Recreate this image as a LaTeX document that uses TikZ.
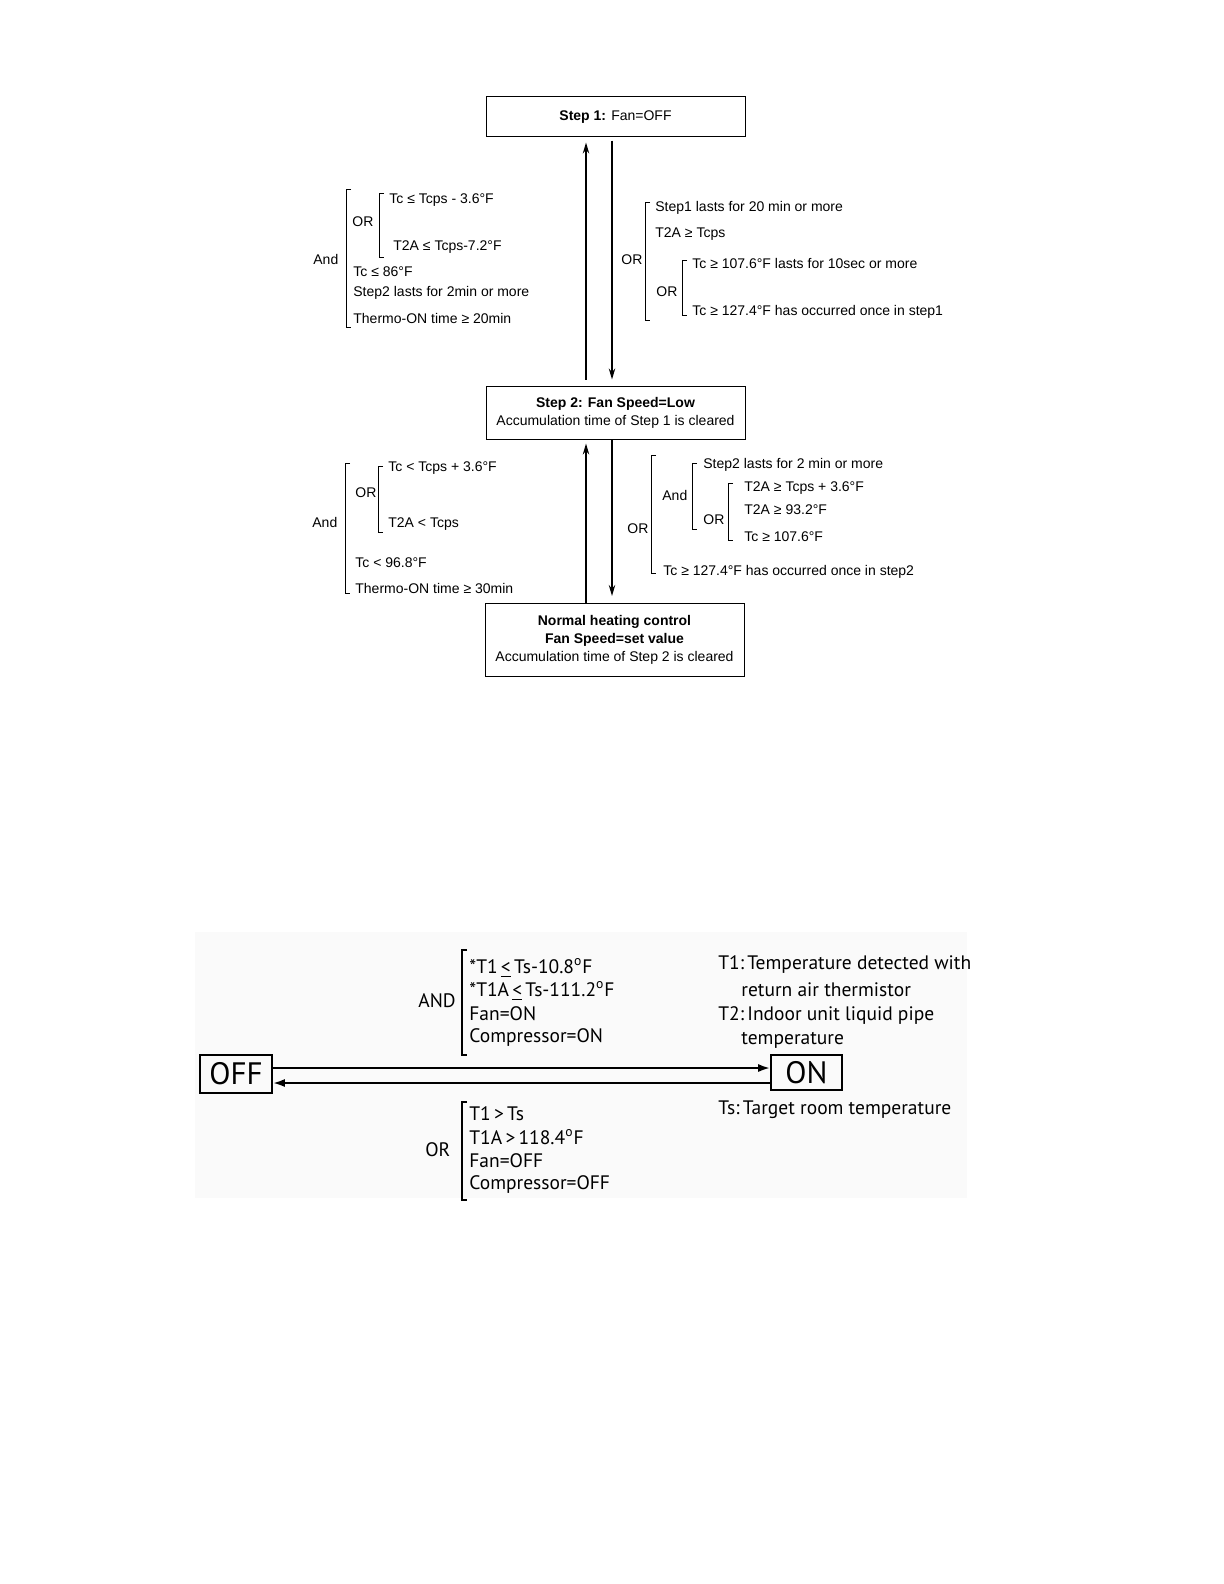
\documentclass[tikz,border=0pt]{standalone}
\usepackage{fontspec}
\setmainfont{Liberation Sans}
\newfontfamily\legendfont{PT Sans}
\usetikzlibrary{calc, positioning, arrows.meta}

\tikzset{
  stepbox/.style={draw, line width=0.5pt, align=center, inner sep=0pt,
    minimum width=129.5pt, font=\fontsize{7}{9}\selectfont},
  cond/.style={anchor=west, inner sep=0pt, font=\fontsize{7}{8.4}\selectfont},
  brak/.style={line width=0.4pt},
  flow/.style={line width=0.75pt, -{Stealth[length=5.5pt, width=3.2pt]}},
  swbox/.style={draw, line width=0.8pt, inner sep=0pt,
    font=\legendfont\fontsize{15.5}{18}\selectfont},
  swtext/.style={anchor=west, inner sep=0pt, font=\legendfont\fontsize{9.75}{11}\selectfont},
  swbrak/.style={line width=0.8pt},
  swflow/.style={line width=1.1pt, -{Latex[length=6pt, width=4pt]}},
}
% bracket: [style]{x}{top}{bottom}
\newcommand{\condbrk}[4][brak]{\draw[#1] (#2+5,#3) -- (#2,#3) -- (#2,#4) -- (#2+5,#4);}
\newcommand{\ule}{\underline{<}}

\begin{document}
\begin{tikzpicture}[x=0.5pt, y=-0.5pt]
  \useasboundingbox (0,0) rectangle (1224,1584);

  % heating steps
  \node[stepbox, minimum height=20pt] (step1) at (615.5,117) {\textbf{Step 1:} Fan=OFF};
  \node[stepbox, minimum height=26.5pt] (step2) at (615.5,412.5)
    {\textbf{Step 2: Fan Speed=Low}\\Accumulation time of Step 1 is cleared};
  \node[stepbox, minimum height=36.5pt] (normal) at (614.5,640)
    {\textbf{Normal heating control}\\\textbf{Fan Speed=set value}\\Accumulation time of Step 2 is cleared};

  \coordinate (upL) at (586,0);
  \coordinate (dnR) at (612,0);
  \draw[flow, shorten >=2.5pt, shorten <=3pt] (step2.north -| upL) -- (step1.south -| upL);
  \draw[flow, shorten >=3pt, shorten <=1.5pt] (step1.south -| dnR) -- (step2.north -| dnR);
  \draw[flow, shorten >=2pt] (normal.north -| upL) -- (step2.south -| upL);
  \draw[flow, shorten >=3.5pt] (step2.south -| dnR) -- (normal.north -| dnR);

  % step2 -> step1
  \condbrk{346}{189}{327}
  \node[cond] (andA) at (313,259) {And};
  \condbrk{379}{193}{257}
  \node[cond] (orA) at (352,222) {OR};
  \node[cond] (a1) at (389,200) {Tc ≤ Tcps - 3.6°F};
  \node[cond] (a2) at (393,247) {T2A ≤ Tcps-7.2°F};
  \node[cond] (a3) at (353,272) {Tc ≤ 86°F};
  \node[cond] (a4) at (353,293) {Step2 lasts for 2min or more};
  \node[cond] (a5) at (353,318) {Thermo-ON time ≥ 20min};

  % step1 -> step2
  \condbrk{645}{202}{320}
  \node[cond] (orB) at (621,260) {OR};
  \node[cond] (b1) at (655,208) {Step1 lasts for 20 min or more};
  \node[cond] (b2) at (655,234) {T2A ≥ Tcps};
  \condbrk{682}{260}{315}
  \node[cond] (orC) at (656,292) {OR};
  \node[cond] (b3) at (692,263) {Tc ≥ 107.6°F lasts for 10sec or more};
  \node[cond] (b4) at (692,312) {Tc ≥ 127.4°F has occurred once in step1};

  % normal -> step2
  \condbrk{345}{463}{593}
  \node[cond] (andD) at (312,522) {And};
  \condbrk{378}{466}{532}
  \node[cond] (orD) at (355,493) {OR};
  \node[cond] (d1) at (388,468) {Tc < Tcps + 3.6°F};
  \node[cond] (d2) at (388,524) {T2A < Tcps};
  \node[cond] (d3) at (355,563) {Tc < 96.8°F};
  \node[cond] (d4) at (355,588) {Thermo-ON time ≥ 30min};

  % step2 -> normal
  \condbrk{651}{455}{573}
  \node[cond] (orE) at (627,529) {OR};
  \node[cond] (andE) at (662,495) {And};
  \condbrk{692}{463}{529}
  \node[cond] (e1) at (703,465) {Step2 lasts for 2 min or more};
  \node[cond] (orF) at (703,520) {OR};
  \condbrk{728}{483}{540}
  \node[cond] (e2) at (744,488) {T2A ≥ Tcps + 3.6°F};
  \node[cond] (e3) at (744,510) {T2A ≥ 93.2°F};
  \node[cond] (e4) at (744,537) {Tc ≥ 107.6°F};
  \node[cond] (e5) at (663,572) {Tc ≥ 127.4°F has occurred once in step2};

  % ON / OFF switching
  \fill[black!2] (195,932) rectangle (967,1198);
  \node[swbox, minimum width=36pt, minimum height=19pt] (off) at (236,1074) {OFF};
  \node[swbox, minimum width=35.5pt, minimum height=17.5pt] (on) at (806.5,1072.5) {ON};
  \coordinate (upper) at (0,1068);
  \coordinate (lower) at (0,1083);
  \draw[swflow] (off.east |- upper) -- (on.west |- upper);
  \draw[swflow] (on.west |- lower) -- (off.east |- lower);

  \condbrk[swbrak]{462}{950}{1055}
  \node[swtext] (andS) at (418,1001) {AND};
  \node[swtext] (s1) at (469,968) {*T1\,\ule\,Ts-10.8\textsuperscript{o}F};
  \node[swtext] (s2) at (469,991) {*T1A\,\ule\,Ts-111.2\textsuperscript{o}F};
  \node[swtext] (s3) at (469,1014) {Fan=ON};
  \node[swtext] (s4) at (469,1037) {Compressor=ON};

  \condbrk[swbrak]{462}{1102}{1200}
  \node[swtext] (orS) at (425,1150) {OR};
  \node[swtext] (r1) at (469,1114) {T1\,>\,Ts};
  \node[swtext] (r2) at (469,1137) {T1A\,>\,118.4\textsuperscript{o}F};
  \node[swtext] (r3) at (469,1161) {Fan=OFF};
  \node[swtext] (r4) at (469,1184) {Compressor=OFF};

  \node[swtext] (t1) at (718,964) {T1:\,Temperature detected with};
  \node[swtext] (t1b) at (741,990) {return air thermistor};
  \node[swtext] (t2) at (718,1015) {T2:\,Indoor unit liquid pipe};
  \node[swtext] (t2b) at (741,1040) {temperature};
  \node[swtext] (ts) at (718,1110) {Ts:\,Target room temperature};
\end{tikzpicture}
\end{document}
